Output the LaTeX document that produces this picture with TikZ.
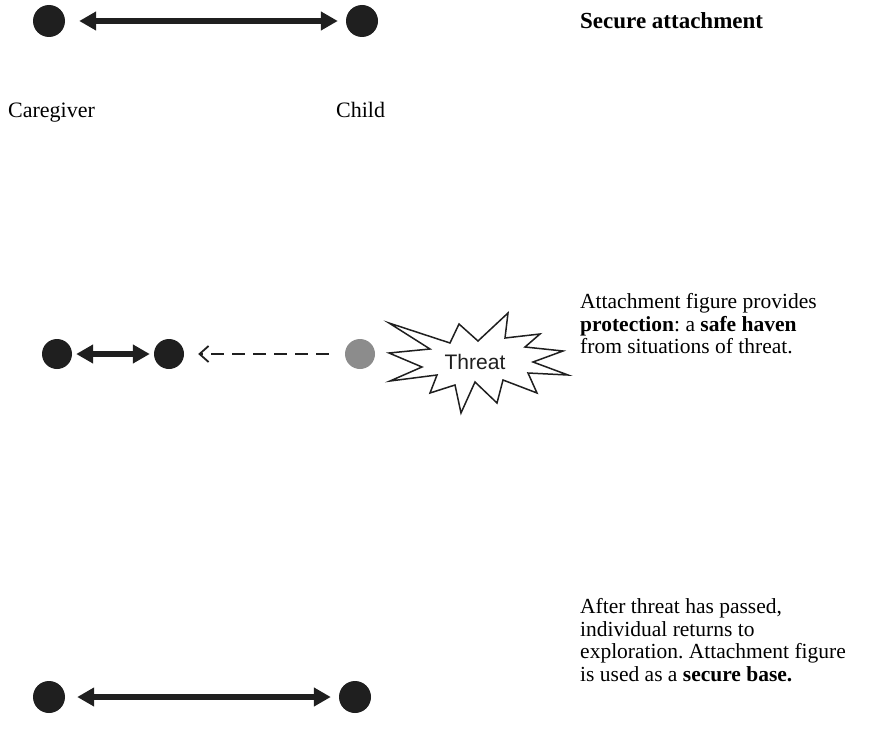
\documentclass[tikz,border=0pt]{standalone}
\usepackage{fontspec}
\setmainfont{Liberation Serif}
\newfontfamily\threatfont{Liberation Sans}
\usetikzlibrary{arrows.meta}
\frenchspacing
\begin{document}
\begin{tikzpicture}[x=1pt,y=-1pt,
   dot/.style={circle,fill=black!88,minimum size=32pt,inner sep=0pt},
   greydot/.style={dot,fill=black!45,minimum size=30pt},
   bond/.style={line width=5.5pt,black!88,{Triangle[length=17pt,width=18pt]}-{Triangle[length=17pt,width=18pt]}},
   seek/.style={line width=1.8pt,black!88,dash pattern=on 13pt off 8pt,-{Straight Barb[length=9pt,width=16pt]}},
   caption/.style={anchor=west,inner sep=0pt,align=left,font=\fontsize{21.5}{22.5}\selectfont}]
   \useasboundingbox (0,0) rectangle (870,741);
   \node [dot] (care1) at (49,21) {};
   \node [dot] (child1) at (362,21) {};
   \draw [bond,shorten <=14pt,shorten >=8pt] (care1) -- (child1);
   \node [caption,anchor=base west,font=\fontsize{23}{24}\selectfont] (secure) at (580,29) {\textbf{Secure attachment}};
   \node [caption,anchor=base west,font=\fontsize{22}{24}\selectfont] (caregiver) at (8,118) {Caregiver};
   \node [caption,anchor=base west,font=\fontsize{22}{24}\selectfont] (child) at (336,118) {Child};
   \node [dot,minimum size=30pt] (care2) at (57,354) {};
   \node [dot,minimum size=30pt] (child2) at (169,354) {};
   \node [greydot] (away) at (360,354) {};
   \draw [bond,shorten <=4pt,shorten >=4pt] (care2) -- (child2);
   \draw [seek,shorten <=16pt,shorten >=14pt] (away) -- (child2);
   \filldraw [black!88,fill=white,line width=1.5pt,line join=miter]
      (389,323) -- (450,343) -- (459,324) -- (478,341) -- (508,313) -- (505,338)
      -- (540,334) -- (525,347) -- (563,351) -- (533,362) -- (568,375) -- (528,373)
      -- (537,393) -- (503,380) -- (497,403) -- (475,382) -- (461,413) -- (455,385)
      -- (430,393) -- (437,375) -- (390,381) -- (422,367) -- (389,353) -- (430,349) -- cycle;
   \node [font=\threatfont\fontsize{21}{24}\selectfont,text=black!88] (threat) at (475,362) {Threat};
   \node [caption] (haven) at (580,324) {Attachment figure provides\\\textbf{protection}: a \textbf{safe haven}\\from situations of threat.};
   \node [dot] (care3) at (49,697) {};
   \node [dot] (child3) at (355,697) {};
   \draw [bond,shorten <=12pt,shorten >=8pt] (care3) -- (child3);
   \node [caption] (base) at (580,640) {After threat has passed,\\individual returns to\\exploration. Attachment figure\\is used as a \textbf{secure base.}};
\end{tikzpicture}
\end{document}
